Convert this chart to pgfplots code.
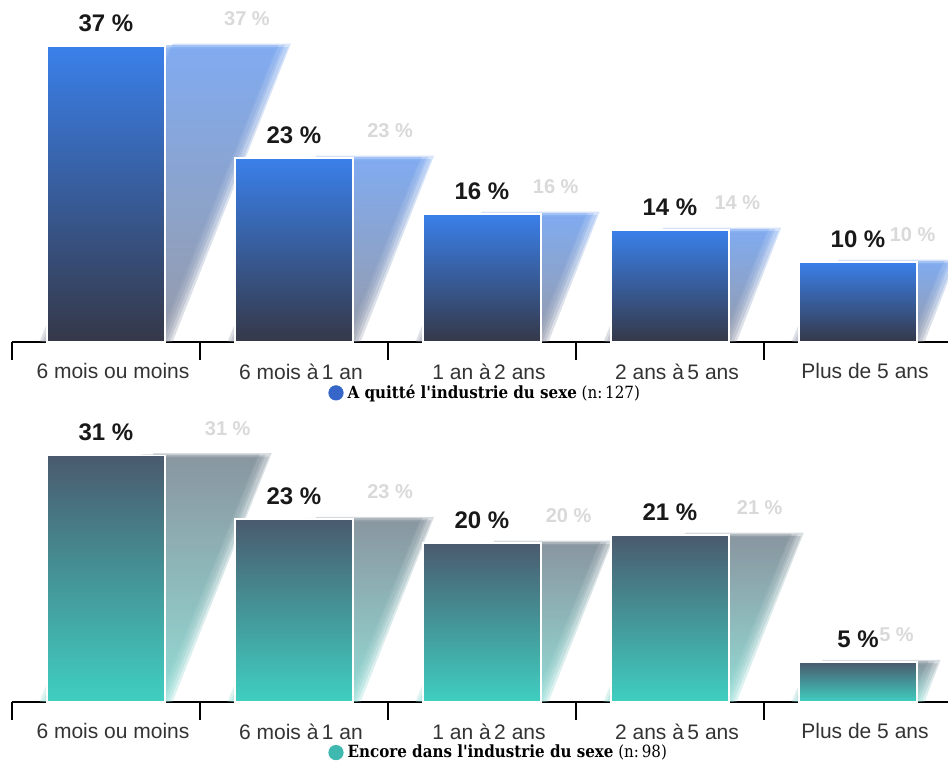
\documentclass[border=0pt]{standalone}
\usepackage{pgfplots}
\pgfplotsset{compat=1.18}
\usepackage{pgfplotstable}
\usepackage{fontspec}
\setmainfont{Liberation Sans}
\newfontfamily\slab[Ligatures=TeXOff]{DejaVu Serif Condensed}

\definecolor{blueTop}{HTML}{3A80EA}
\definecolor{blueBot}{HTML}{353848}
\definecolor{blueShTop}{HTML}{6A9CEE}
\definecolor{blueShBot}{HTML}{83899A}
\definecolor{blueDot}{HTML}{3566C8}
\definecolor{tealTop}{HTML}{4A5A6E}
\definecolor{tealBot}{HTML}{3FCFC1}
\definecolor{tealShTop}{HTML}{74838F}
\definecolor{tealShBot}{HTML}{80D6CE}
\definecolor{tealDot}{HTML}{3FB8B0}
\definecolor{ticktext}{HTML}{333333}

% Duration of sex work, share of respondents (%)
\pgfplotstableread{
idx value
0 37
1 23
2 16
3 14
4 10
}\leftdata
\pgfplotstableread{
idx value
0 31
1 23
2 20
3 21
4 5
}\stilldata

% one soft, slanted copy of a bar (drawn behind the bars)
% #1 index, #2 value, #3/#4 colours, #5 horizontal offset, #6 offset of the top edge
\newcommand\shadowplot[6]{%
  \pgfmathsetmacro\sxa{#1-0.314+#5}%
  \pgfmathsetmacro\sxb{#1+0.314+#5}%
  \pgfmathsetmacro\sxc{#1+0.314+#5+0.01702*#2}%
  \pgfmathsetmacro\sxd{#1-0.314+#5+0.01702*#2}%
  \pgfmathsetmacro\sy{#2+#6}%
  \edef\doshadow{\noexpand\addplot[forget plot, draw=none,
      top color=#3, bottom color=#4, fill opacity=0.27]
    coordinates {(\sxa,0) (\sxb,0) (\sxc,\sy) (\sxd,\sy)} -- cycle;}%
  \doshadow
}
\newcommand\shadows[3]{%
  \pgfplotsinvokeforeach{0,...,4}{%
    \pgfplotstablegetelem{##1}{value}\of#1%
    \let\sval\pgfplotsretval
    \shadowplot{##1}{\sval}{#2}{#3}{-0.04}{-0.3}%
    \shadowplot{##1}{\sval}{#2}{#3}{-0.024}{0.15}%
    \shadowplot{##1}{\sval}{#2}{#3}{-0.008}{-0.1}%
    \shadowplot{##1}{\sval}{#2}{#3}{0.008}{0.1}%
    \shadowplot{##1}{\sval}{#2}{#3}{0.024}{-0.15}%
    \shadowplot{##1}{\sval}{#2}{#3}{0.04}{0.3}%
  }%
}
% bars one by one, so that each gets its own top-to-bottom gradient
\newcommand\gradientbars[3]{%
  \pgfplotsinvokeforeach{0,...,4}{%
    \addplot[valuebars, forget plot, top color=#2, bottom color=#3,
      x filter/.expression={abs(x-##1)<0.1 ? x : nan}]
      table[x=idx, y=value] {#1};
  }%
}

\pgfplotsset{
  durationaxis/.style={
    scale only axis, width=468pt,
    xmin=-0.5, xmax=4.4787, ymin=0, ymax=40,
    clip=false,
    hide y axis,
    axis x line*=bottom,
    x axis line style={-, black, line width=0.8pt},
    xtick={0,...,4},
    xticklabels={6 mois ou moins, 6 mois à\,1 an, 1 an à\,2 ans, 2 ans à\,5 ans, Plus de 5 ans},
    major x tick style={draw=none},
    minor xtick={-0.5,0.5,1.5,2.5,3.5},
    minor tick length=9pt,
    tick align=outside,
    minor x tick style={black, line width=0.8pt},
    xticklabel style={font=\fontsize{10.5}{12}\selectfont, text=ticktext,
      yshift=-3pt, xshift=3.5pt},
    legend style={draw=none, fill=none, inner sep=0pt,
      font=\fontsize{8.4}{10}\selectfont, cells={anchor=west},
      legend cell align=left},
    /pgf/number format/assume math mode=true,
  },
  valuebars/.style={ybar, bar width=0.628, draw=white, line width=0.8pt,
    nodes near coords={\pgfmathprintnumber{\pgfplotspointmeta} \%},
    nodes near coords style={font=\fontsize{12}{14}\selectfont\bfseries,
      text=black!90, anchor=south, yshift=3.5pt}},
  ghostlabels/.style={forget plot, draw=none, mark=none,
    nodes near coords={\pgfmathprintnumber{\pgfplotspointmeta} \%},
    nodes near coords style={font=\fontsize{10}{12}\selectfont\bfseries,
      text=gray, opacity=0.3, anchor=south, yshift=6.5pt}},
}

\begin{document}
\begin{tikzpicture}
\path[use as bounding box] (0,0) rectangle (474pt,382.5pt);

% left sex work
\begin{axis}[durationaxis, at={(6pt,211.5pt)}, anchor=south west, height=160pt,
  legend style={at={(0.3376,-0.159)}, anchor=west},
  legend image code/.code={\fill[blueDot] (0.1cm,0cm) circle (3.6pt);}]
  \shadows{\leftdata}{blueShTop}{blueShBot}
  \addplot[ghostlabels] table[x expr=\thisrow{idx}+0.01702*\thisrow{value}+0.12, y=value] {\leftdata};
  \gradientbars{\leftdata}{blueTop}{blueBot}
  \addlegendimage{}
  \addlegendentry{{\slab\bfseries A quitté l'industrie du sexe} {\slab(n:\,127)}}
\end{axis}

% still in sex work
\begin{axis}[durationaxis, at={(6pt,31.5pt)}, anchor=south west, height=159pt,
  legend style={at={(0.3376,-0.159)}, anchor=west},
  legend image code/.code={\fill[tealDot] (0.1cm,0cm) circle (3.6pt);}]
  \shadows{\stilldata}{tealShTop}{tealShBot}
  \addplot[ghostlabels] table[x expr=\thisrow{idx}+0.01702*\thisrow{value}+0.12, y=value] {\stilldata};
  \gradientbars{\stilldata}{tealTop}{tealBot}
  \addlegendimage{}
  \addlegendentry{{\slab\bfseries Encore dans l'industrie du sexe} {\slab(n:\,98)}}
\end{axis}
\end{tikzpicture}
\end{document}
